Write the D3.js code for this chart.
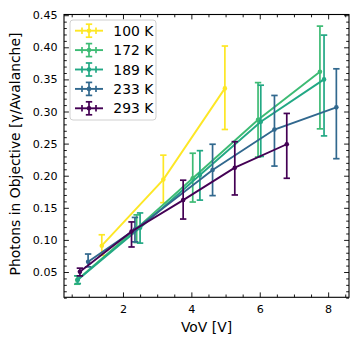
<!DOCTYPE html>
<html>
<head>
<meta charset="utf-8">
<script src="https://cdn.jsdelivr.net/npm/d3@7"></script>
<style>
  body { margin: 0; background: #fff; }
  svg { font-family: "DejaVu Sans", sans-serif; }
</style>
</head>
<body>
<div id="chart"></div>
<script>
// Series: one list per temperature
var temps = ["100 K", "172 K", "189 K", "233 K", "293 K"];
var colors = ["#fde725", "#3dbb74", "#22a884", "#31688e", "#440154"];

var vov100 = [1.38, 3.18, 4.98];
var ph100 = [0.091, 0.194, 0.336];
var lo100 = [0.015, 0.036, 0.064];
var hi100 = [0.017, 0.038, 0.066];

var vov172 = [0.66, 2.40, 4.04, 5.95, 7.76];
var ph172 = [0.0375, 0.118, 0.196, 0.287, 0.362];
var lo172 = [0.0065, 0.022, 0.037, 0.058, 0.089];
var hi172 = [0.0065, 0.021, 0.039, 0.058, 0.071];

var vov189 = [0.68, 2.50, 4.25, 6.03, 7.88];
var ph189 = [0.038, 0.119, 0.201, 0.284, 0.350];
var lo189 = [0.006, 0.024, 0.039, 0.054, 0.088];
var hi189 = [0.006, 0.023, 0.038, 0.057, 0.069];

var vov233 = [0.98, 2.35, 4.62, 6.43, 8.24];
var ph233 = [0.066, 0.116, 0.209, 0.272, 0.3065];
var lo233 = [0.008, 0.019, 0.040, 0.057, 0.080];
var hi233 = [0.012, 0.019, 0.040, 0.053, 0.060];

var vov293 = [0.74, 2.25, 3.76, 5.27, 6.79];
var ph293 = [0.0505, 0.113, 0.162, 0.2125, 0.249];
var lo293 = [0.0065, 0.024, 0.0295, 0.0425, 0.053];
var hi293 = [0.0055, 0.015, 0.031, 0.0405, 0.048];

var xMajor = [2, 4, 6, 8];
var yMajor = [0.05, 0.10, 0.15, 0.20, 0.25, 0.30, 0.35, 0.40, 0.45];

var seriesX = [vov100, vov172, vov189, vov233, vov293];
var seriesY = [ph100, ph172, ph189, ph233, ph293];
var seriesLo = [lo100, lo172, lo189, lo233, lo293];
var seriesHi = [hi100, hi172, hi189, hi233, hi293];

// Chart params
var svgWidth = 360;
var svgHeight = 345;
var plot = { left: 64, right: 349, top: 14.5, bottom: 297.3 };

var svg = d3.select("#chart")
    .append("svg")
    .attr("width", svgWidth)
    .attr("height", svgHeight);

var xScale = d3.scaleLinear()
    .domain([0.275, 8.61])
    .range([plot.left, plot.right]);

var yScale = d3.scaleLinear()
    .domain([0.0106, 0.4511])
    .range([plot.bottom, plot.top]);

// minor tick values
var xMinor = d3.range(0.5, 8.6, 0.5).filter(v => Math.abs(v / 2 - Math.round(v / 2)) > 1e-6);
var yMinor = d3.range(1, 46).map(v => v / 100).filter(v => Math.round(v * 100) % 5 !== 0);

// draw the axes, ticks pointing inwards on all four sides
function drawAxis(axisFn, scale, values, size, labels, transform, padding) {
    var g = svg.append("g")
        .attr("transform", transform)
        .call(axisFn(scale)
            .tickValues(values)
            .tickSize(-size)
            .tickPadding(padding)
            .tickFormat(labels));
    g.select(".domain").remove();
    g.selectAll("line").attr("stroke", "#000").attr("stroke-width", 0.9);
    g.selectAll("text").attr("font-size", 11.1).attr("fill", "#000")
        .attr("font-family", "DejaVu Sans");
    return g;
}

var fmtX = d3.format("d");
var fmtY = d3.format(".2f");
drawAxis(d3.axisBottom, xScale, xMajor, 4.9, fmtX, `translate(0,${plot.bottom})`, 7.5);
drawAxis(d3.axisBottom, xScale, xMinor, 2.8, "", `translate(0,${plot.bottom})`, 0);
drawAxis(d3.axisTop, xScale, xMajor, 4.9, "", `translate(0,${plot.top})`, 0);
drawAxis(d3.axisTop, xScale, xMinor, 2.8, "", `translate(0,${plot.top})`, 0);
drawAxis(d3.axisLeft, yScale, yMajor, 4.9, fmtY, `translate(${plot.left},0)`, 6.5);
drawAxis(d3.axisLeft, yScale, yMinor, 2.8, "", `translate(${plot.left},0)`, 0);
drawAxis(d3.axisRight, yScale, yMajor, 4.9, "", `translate(${plot.right},0)`, 0);
drawAxis(d3.axisRight, yScale, yMinor, 2.8, "", `translate(${plot.right},0)`, 0);

// Data
var line = d3.line()
    .x(d => xScale(d.x))
    .y(d => yScale(d.y));

var capHalf = 3.2;

seriesX.forEach((xs, i) => {
    var pts = xs.map((x, j) => ({
        x: x,
        y: seriesY[i][j],
        lo: seriesY[i][j] - seriesLo[i][j],
        hi: seriesY[i][j] + seriesHi[i][j]
    }));
    var g = svg.append("g");
    var c = colors[i];

    g.append("path")
        .datum(pts)
        .attr("d", line)
        .attr("fill", "none")
        .attr("stroke", c)
        .attr("stroke-width", 1.9);

    // vertical error bars
    g.selectAll(".bar")
        .data(pts)
        .join("line")
        .attr("x1", d => xScale(d.x))
        .attr("x2", d => xScale(d.x))
        .attr("y1", d => yScale(d.lo))
        .attr("y2", d => yScale(d.hi))
        .attr("stroke", c)
        .attr("stroke-width", 1.7);

    // caps
    ["lo", "hi"].forEach(k => {
        g.selectAll(".cap-" + k)
            .data(pts)
            .join("line")
            .attr("x1", d => xScale(d.x) - capHalf)
            .attr("x2", d => xScale(d.x) + capHalf)
            .attr("y1", d => yScale(d[k]))
            .attr("y2", d => yScale(d[k]))
            .attr("stroke", c)
            .attr("stroke-width", 1.7);
    });

    g.selectAll("circle")
        .data(pts)
        .join("circle")
        .attr("cx", d => xScale(d.x))
        .attr("cy", d => yScale(d.y))
        .attr("r", 2.3)
        .attr("fill", c);
});

// frame (spines)
svg.append("rect")
    .attr("x", plot.left)
    .attr("y", plot.top)
    .attr("width", plot.right - plot.left)
    .attr("height", plot.bottom - plot.top)
    .attr("fill", "none")
    .attr("stroke", "#000")
    .attr("stroke-width", 1.1);

// Axis labels
svg.append("text")
    .attr("x", (plot.left + plot.right) / 2)
    .attr("y", 331.5)
    .attr("text-anchor", "middle")
    .attr("font-size", 13.9)
    .text("VoV [V]");

svg.append("text")
    .attr("transform", "translate(20, 154) rotate(-90)")
    .attr("text-anchor", "middle")
    .attr("font-size", 13.9)
    .text("Photons in Objective [γ/Avalanche]");

// Legend
var legend = svg.append("g");
legend.append("rect")
    .attr("x", 70)
    .attr("y", 20)
    .attr("width", 86)
    .attr("height", 100)
    .attr("rx", 3)
    .attr("fill", "#fff")
    .attr("fill-opacity", 0.8)
    .attr("stroke", "#d0d0d0")
    .attr("stroke-width", 1);

temps.forEach((t, i) => {
    var cy = 30.7 + i * 19.4;
    var cx = 89;
    var c = colors[i];
    var row = legend.append("g");
    row.append("line")
        .attr("x1", 75).attr("x2", 103)
        .attr("y1", cy).attr("y2", cy)
        .attr("stroke", c).attr("stroke-width", 1.9);
    row.append("line")
        .attr("x1", cx).attr("x2", cx)
        .attr("y1", cy - 6.5).attr("y2", cy + 6.5)
        .attr("stroke", c).attr("stroke-width", 1.7);
    [cy - 6.5, cy + 6.5].forEach(yy => {
        row.append("line")
            .attr("x1", cx - capHalf).attr("x2", cx + capHalf)
            .attr("y1", yy).attr("y2", yy)
            .attr("stroke", c).attr("stroke-width", 1.7);
    });
    [cx - 7, cx + 7].forEach(xx => {
        row.append("line")
            .attr("x1", xx).attr("x2", xx)
            .attr("y1", cy - capHalf).attr("y2", cy + capHalf)
            .attr("stroke", c).attr("stroke-width", 1.7);
    });
    row.append("circle")
        .attr("cx", cx).attr("cy", cy)
        .attr("r", 2.3)
        .attr("fill", c);
    row.append("text")
        .attr("x", 113.3)
        .attr("y", cy + 5)
        .attr("font-size", 13.9)
        .text(t);
});
</script>
</body>
</html>
